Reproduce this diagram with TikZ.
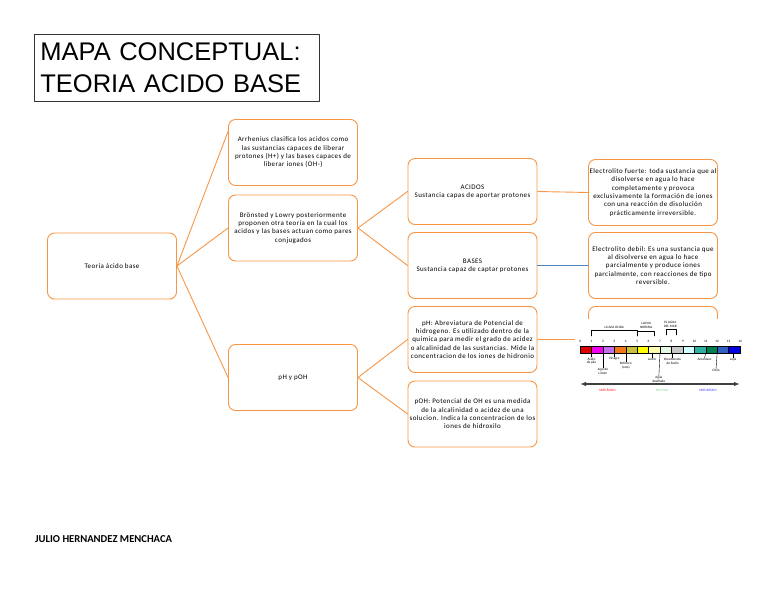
\documentclass[tikz,border=0pt]{standalone}
\usepackage{fontspec}
\setmainfont{Carlito}
\newfontfamily\titlefont{Liberation Sans}
\newfontfamily\cajafont[LetterSpace=6]{Carlito}
\usetikzlibrary{arrows.meta}

\definecolor{mapborde}{HTML}{F79646}
\definecolor{mapazul}{HTML}{4F81BD}

\begin{document}
\begin{tikzpicture}[
		x=1pt, y=-1pt,
		every node/.style={font=\cajafont\fontsize{7}{8.3}\selectfont, inner sep=0pt},
		caja/.style={draw=mapborde, line width=0.9pt, rounded corners=7pt,
			minimum width=129pt, minimum height=66pt, align=center},
		conector/.style={draw=mapborde, line width=0.9pt},
		diminuto/.style={font=\fontsize{3.4}{3.9}\selectfont, align=center},
		line cap=round,
		line join=round
		]
		\useasboundingbox (0,0) rectangle (768,594);
		
		% Title
		\node[draw=black!80, line width=0.8pt, anchor=north west, minimum width=285pt,
			minimum height=67pt, inner xsep=6pt, text width=273pt, align=left,
			font=\titlefont\fontsize{25.5}{32}\selectfont] (titulo) at (34,34)
			{MAPA CONCEPTUAL:\\TEORIA ACIDO BASE};
		
		% Boxes
		\node[caja] (teoria) at (112,266) {Teoría ácido base};
		\node[caja] (arrhenius) at (293,152.5) {Arrhenius clasifica los acidos como\\las sustancias capaces de liberar\\protones (H+) y las bases capaces de\\liberar iones (OH-)};
		\node[caja] (bronsted) at (293,228) {Brönsted y Lowry posteriormente\\proponen otra teoría en la cual los\\acidos y las bases actuan como pares\\conjugados};
		\node[caja] (phpoh) at (293,377.5) {pH y pOH};
		\node[caja] (acidos) at (472.5,191.5) {ACIDOS\\Sustancia capas de aportar protones};
		\node[caja] (bases) at (472.5,265.5) {BASES\\Sustancia capaz de captar protones};
		\node[caja] (ph) at (472.5,339.5) {pH: Abreviatura de Potencial de\\hidrogeno. Es utilizado dentro de la\\quimica para medir el grado de acidez\\o alcalinidad de las sustancias. Mide la\\concentracion de los iones de hidronio};
		\node[caja] (poh) at (472.5,414) {pOH: Potencial de OH es una medida\\de la alcalinidad o acidez de una\\solucion. Indica la concentracion de los\\iones de hidroxilo};
		\node[caja] (fuerte) at (653,192.5) {Electrolito fuerte: toda sustancia que al\\disolverse en agua lo hace\\completamente y provoca\\exclusivamente la formación de iones\\con una reacción de disolución\\prácticamente irreversible.};
		\node[caja] (debil) at (653,265.5) {Electrolito debil: Es una sustancia que\\al disolverse en agua lo hace\\parcialmente y produce iones\\parcialmente, con reacciones de tipo\\reversible.};
		\node[caja] (escala) at (653,339.5) {};
		
		% Connectors
		\draw[conector] (teoria.east) -- ([yshift=21pt]arrhenius.west);
		\draw[conector] (teoria.east) -- (bronsted.west);
		\draw[conector] (teoria.east) -- (phpoh.west);
		\draw[conector] (bronsted.east) -- (acidos.west);
		\draw[conector] (bronsted.east) -- (bases.west);
		\draw[conector] (phpoh.east) -- (ph.west);
		\draw[conector] (phpoh.east) -- (poh.west);
		\draw[conector] (acidos.east) -- (fuerte.west);
		\draw[conector, draw=mapazul] (bases.east) -- (debil.west);
		\draw[conector] (ph.east) -- (escala.west);
		
		% pH scale picture
		\fill[white] (575,319) rectangle (746,400);
		\begin{scope}[shift={(580,0)}, x=11.43pt, line width=0.4pt]
			\foreach \c [count=\i from 0] in {E00000,F000F0,C070E8,F07818,C8C040,FFFF00,FFFFB0,E2F8E2,C8C8C8,D2FFFF,30B0A0,008050,3060C0,0000E0}
			{
				\definecolor{tono}{HTML}{\c}
				\filldraw[fill=tono, draw=black] (\i,346.5) rectangle (\i+1,353);
			}
			\foreach \n in {0,...,14}
				\node[diminuto] (num\n) at (\n,341) {\n};
			
			% brackets
			\node[diminuto] (acida) at (3,327) {LLUVIA ÁCIDA};
			\draw (1,336) -- (1,330) -- (5,330) -- (5,336);
			\node[diminuto] (normal) at (5.8,325) {LLUVIA\\NORMAL};
			\draw (5,336) -- (5,331.5) -- (6.5,331.5) -- (6.5,336);
			\node[diminuto] (mar) at (7.9,324) {EL AGUA\\DEL MAR};
			\draw (7.5,335) -- (7.5,329) -- (8.4,329) -- (8.4,335);
			
			% markers
			\node[diminuto, anchor=north] (pila) at (1,357) {Ácido\\de pila};
			\node[diminuto, anchor=north] (limon) at (2,368) {Jugo de\\Limón};
			\node[diminuto, anchor=north] (vinagre) at (3,357) {Vinagre};
			\node[diminuto, anchor=north] (cola) at (4,362) {Refresco\\(cola)};
			\node[diminuto, anchor=north] (leche) at (6.3,358) {Leche};
			\node[diminuto, anchor=north] (agua) at (6.9,376) {Agua\\destilada};
			\node[diminuto, anchor=north] (bicarb) at (8.1,358) {Bicarbonato\\de Sodio};
			\node[diminuto, anchor=north] (amoniaco) at (10.9,358) {Amoníaco};
			\node[diminuto, anchor=north] (cloro) at (11.9,369) {Cloro};
			\node[diminuto, anchor=north] (lejia) at (13.4,358) {Lejía};
			\draw (1,353) -- (pila.north);
			\draw (2,353) -- (limon.north);
			\draw (3,353) -- (vinagre.north);
			\draw (4,353) -- (cola.north);
			\draw (6.3,353) -- (leche.north);
			\draw (7,353) -- (agua.north);
			\draw (8.1,353) -- (bicarb.north);
			\draw (11,353) -- (amoniaco.north);
			\draw (12,353) -- (cloro.north);
			\draw (13.4,353) -- (lejia.north);
			
			% acid / base arrow
			\draw[{Latex[length=6pt,width=4.5pt]}-{Latex[length=6pt,width=4.5pt]}, line width=1.3pt, black!75] (0,384) -- (14,384);
			\node[diminuto, text=red] (masacido) at (2.4,390) {MÁS ÁCIDO};
			\node[diminuto, text=green!45!gray!60] (neutral) at (7.2,390) {NEUTRAL};
			\node[diminuto, text=blue!80] (masbasico) at (11.2,390) {MÁS BÁSICO};
		\end{scope}
		
		% Author
		\node[anchor=west, font=\bfseries\fontsize{10.6}{12}\selectfont] (autor) at (35,539) {JULIO HERNANDEZ MENCHACA};
	\end{tikzpicture}
\end{document}
